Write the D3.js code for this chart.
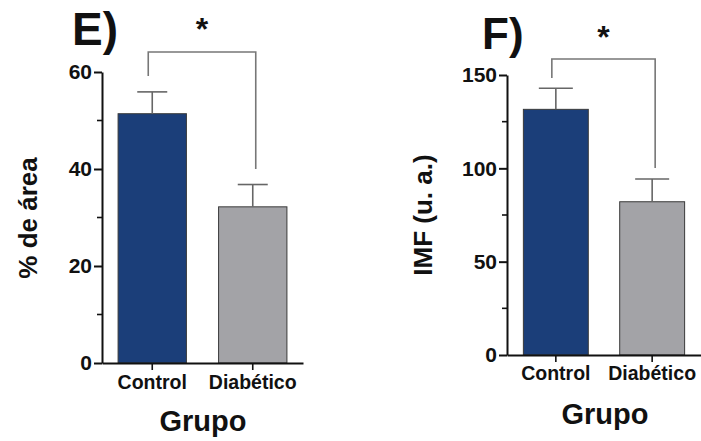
<!DOCTYPE html>
<html>
<head>
<meta charset="utf-8">
<script src="https://cdn.jsdelivr.net/npm/d3@7"></script>
<style>
  html, body { margin: 0; padding: 0; background: #fff; }
  svg { display: block; font-family: "Liberation Sans", Arial, Helvetica, sans-serif; }
</style>
</head>
<body>
<svg id="chart" width="701" height="441"></svg>
<script>
// ---- Data ----
const categories = ["Control", "Diabético"];
const areaMeans = [51.4, 32.2];
const areaErrors = [4.5, 4.6];
const imfMeans = [131.6, 82.1];
const imfErrors = [11.3, 12.2];
const areaTicks = [0, 20, 40, 60];
const areaMinorTicks = [10, 30, 50];
const imfTicks = [0, 50, 100, 150];
const imfMinorTicks = [25, 75, 125];
const panelLetters = ["E)", "F)"];
const yTitles = ["% de área", "IMF (u. a.)"];
const xTitle = "Grupo";
const sigLabel = "*";
const barColors = ["#1b3e79", "#a3a3a7"];

const svg = d3.select("#chart");

function drawPanel(opt) {
  const g = svg.append("g");
  const y = d3.scaleLinear().domain([0, opt.ymax]).range([opt.y0, opt.y1]);
  const x = d3.scaleBand().domain(categories).range([opt.x0, opt.x1])
    .paddingInner(opt.pi).paddingOuter(opt.po);

  // bars
  g.selectAll("rect.bar").data(opt.means).join("rect")
    .attr("class", "bar")
    .attr("x", (d, i) => x(categories[i]))
    .attr("width", x.bandwidth())
    .attr("y", d => y(d))
    .attr("height", d => y(0) - y(d))
    .attr("fill", (d, i) => barColors[i])
    .attr("stroke", "#3a3a3a")
    .attr("stroke-width", 1);

  // error bars (upper only)
  opt.means.forEach((m, i) => {
    const cx = x(categories[i]) + x.bandwidth() / 2;
    const top = y(m + opt.errs[i]);
    g.append("line").attr("x1", cx).attr("x2", cx).attr("y1", y(m)).attr("y2", top)
      .attr("stroke", "#666").attr("stroke-width", 1.6);
    g.append("line").attr("x1", cx - opt.cap).attr("x2", cx + opt.cap).attr("y1", top).attr("y2", top)
      .attr("stroke", "#666").attr("stroke-width", 1.6);
  });

  // y axis
  const yAxis = g.append("g").attr("transform", `translate(${opt.x0},0)`)
    .call(d3.axisLeft(y).tickValues(opt.ticks).tickSize(8).tickSizeOuter(0).tickPadding(2));
  yAxis.select(".domain").attr("stroke", "#111").attr("stroke-width", 2);
  yAxis.selectAll(".tick line").attr("stroke", "#111").attr("stroke-width", 2);
  yAxis.selectAll(".tick text").attr("font-size", 21).attr("font-weight", "bold")
    .attr("fill", "#111").attr("font-family", "Liberation Sans, Arial, sans-serif");
  // minor ticks
  g.selectAll("line.minor").data(opt.minor).join("line")
    .attr("class", "minor")
    .attr("x1", opt.x0 - 5).attr("x2", opt.x0)
    .attr("y1", d => y(d)).attr("y2", d => y(d))
    .attr("stroke", "#111").attr("stroke-width", 1.6);

  // x axis
  const xAxis = g.append("g").attr("transform", `translate(0,${opt.y0})`)
    .call(d3.axisBottom(x).tickSize(7).tickSizeOuter(0).tickPadding(opt.xpad));
  xAxis.select(".domain").attr("stroke", "#111").attr("stroke-width", 2);
  xAxis.selectAll(".tick line").attr("stroke", "#111").attr("stroke-width", 1.6);
  xAxis.selectAll(".tick text").attr("font-size", 19.5).attr("font-weight", "bold")
    .attr("fill", "#111").attr("font-family", "Liberation Sans, Arial, sans-serif");

  // significance bracket
  const cL = x(categories[0]) + x.bandwidth() / 2 + opt.bl;
  const cR = x(categories[1]) + x.bandwidth() / 2 + opt.br;
  g.append("path")
    .attr("d", `M${cL},${opt.bLeftBottom}V${opt.bTop}H${cR}V${opt.bRightBottom}`)
    .attr("fill", "none").attr("stroke", "#777").attr("stroke-width", 1.6);
  g.append("text").attr("x", (cL + cR) / 2).attr("y", opt.starY)
    .attr("text-anchor", "middle").attr("font-size", 32).attr("font-weight", "bold")
    .attr("fill", "#111").text(sigLabel);

  // panel letter
  g.append("text").attr("x", opt.letterX).attr("y", opt.letterY)
    .attr("font-size", opt.letterSize).attr("font-weight", "bold").attr("fill", "#111")
    .text(opt.letter);

  // y title
  g.append("text")
    .attr("transform", `translate(${opt.ytX},${opt.ytY}) rotate(-90)`)
    .attr("text-anchor", "middle").attr("font-size", 26).attr("font-weight", "bold")
    .attr("fill", "#111").text(opt.ytitle);

  // x title
  g.append("text").attr("x", opt.xtX).attr("y", opt.xtY)
    .attr("text-anchor", "middle").attr("font-size", 29).attr("font-weight", "bold")
    .attr("fill", "#111").text(xTitle);
}

drawPanel({
  means: areaMeans, errs: areaErrors, ymax: 60, ticks: areaTicks, minor: areaMinorTicks,
  x0: 102, x1: 303, y0: 363, y1: 72, pi: 0.32, po: 0.16, cap: 15, xpad: 5,
  bl: -4, br: 3, bTop: 52, bLeftBottom: 76, bRightBottom: 169, starY: 40,
  letter: panelLetters[0], letterX: 72, letterY: 45, letterSize: 46,
  ytitle: yTitles[0], ytX: 37, ytY: 218,
  xtX: 203, xtY: 431
});

drawPanel({
  means: imfMeans, errs: imfErrors, ymax: 150, ticks: imfTicks, minor: imfMinorTicks,
  x0: 507, x1: 701, y0: 355, y1: 75, pi: 0.326, po: 0.17, cap: 17, xpad: 4,
  bl: -4, br: 3, bTop: 59, bLeftBottom: 78, bRightBottom: 168, starY: 48,
  letter: panelLetters[1], letterX: 482, letterY: 49, letterSize: 44,
  ytitle: yTitles[1], ytX: 432, ytY: 215,
  xtX: 605, xtY: 424
});
</script>
</body>
</html>
